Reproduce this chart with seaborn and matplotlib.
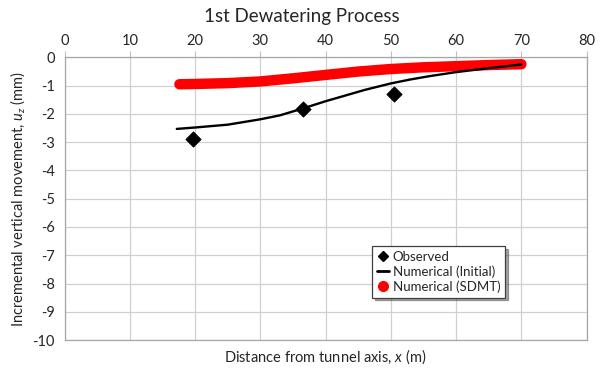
import matplotlib
matplotlib.use("Agg")
import matplotlib.pyplot as plt
from matplotlib.lines import Line2D
import seaborn as sns
import pandas as pd

# Data
obs_x = [19.7, 36.6, 50.5]
obs_y = [-2.89, -1.81, -1.30]

init_x = [17.2, 20, 25, 30, 33, 36.6, 40, 43, 46, 50, 53, 56, 60, 65, 70]
init_y = [-2.53, -2.48, -2.38, -2.19, -2.05, -1.80, -1.55, -1.35, -1.15, -0.92, -0.78, -0.66, -0.52, -0.38, -0.25]

sdmt_x = [17.6, 20, 25, 30, 35, 40, 45, 50, 55, 60, 65, 70]
sdmt_y = [-0.95, -0.94, -0.91, -0.85, -0.74, -0.62, -0.50, -0.41, -0.35, -0.31, -0.27, -0.24]

x_ticks = [0, 10, 20, 30, 40, 50, 60, 70, 80]
y_ticks = [0, -1, -2, -3, -4, -5, -6, -7, -8, -9, -10]

title = "1st Dewatering Process"
x_label = "Distance from tunnel axis, $x$ (m)"
y_label = "Incremental vertical movement, $u_z$ (mm)"
legend_labels = ["Observed", "Numerical (Initial)", "Numerical (SDMT)"]

sns.set_style("white")
plt.rcParams['font.family'] = ['Lato', 'DejaVu Sans']
plt.rcParams['mathtext.fontset'] = 'custom'
plt.rcParams['mathtext.rm'] = 'Lato'
plt.rcParams['mathtext.it'] = 'Lato:italic'
plt.rcParams['axes.unicode_minus'] = False

fig = plt.figure(figsize=(6.03, 3.68), dpi=100)
ax = fig.add_axes([0.107, 0.076, 0.866, 0.768])

df_init = pd.DataFrame({"x": init_x, "y": init_y})
df_sdmt = pd.DataFrame({"x": sdmt_x, "y": sdmt_y})
df_obs = pd.DataFrame({"x": obs_x, "y": obs_y})

sns.lineplot(data=df_sdmt, x="x", y="y", ax=ax, color="#ff0000", linewidth=7.5,
             solid_capstyle="round", sort=False, zorder=3)
sns.lineplot(data=df_init, x="x", y="y", ax=ax, color="black", linewidth=1.7,
             sort=False, zorder=4)
sns.scatterplot(data=df_obs, x="x", y="y", ax=ax, color="black", marker="D",
                s=60, edgecolor="black", zorder=5)

ax.set_xlim(0, 80)
ax.set_ylim(-10, 0)
ax.set_xticks(x_ticks)
ax.set_yticks(y_ticks)
ax.xaxis.tick_top()
ax.tick_params(axis="both", labelsize=10.5, length=4, color="#bfbfbf", pad=3)
ax.grid(True, color="#d0d0d0", linewidth=0.9)
ax.set_axisbelow(True)
for s in ax.spines.values():
    s.set_color("#a6a6a6")
    s.set_linewidth(0.9)

ax.set_xlabel(x_label, fontsize=10.5, labelpad=5)
ax.xaxis.set_label_position("bottom")
ax.set_ylabel(y_label, fontsize=10.5, labelpad=4)
fig.text(0.5, 0.955, title, ha="center", va="center", fontsize=13.5)

handles = [
    Line2D([], [], color="black", marker="D", linestyle="None", markersize=5),
    Line2D([], [], color="black", linewidth=2, marker=None),
    Line2D([], [], color="#ff0000", marker="o", linestyle="None", markersize=7),
]
leg = ax.legend(handles, legend_labels, loc="upper left",
                bbox_to_anchor=(0.589, 0.333), fontsize=9.5, frameon=True,
                fancybox=False, shadow=True, handlelength=0.9,
                handletextpad=0.3, borderpad=0.35, labelspacing=0.2,
                borderaxespad=0)
leg.get_frame().set_edgecolor("#404040")
leg.get_frame().set_linewidth(0.9)

fig.savefig("out.png", dpi=100)
